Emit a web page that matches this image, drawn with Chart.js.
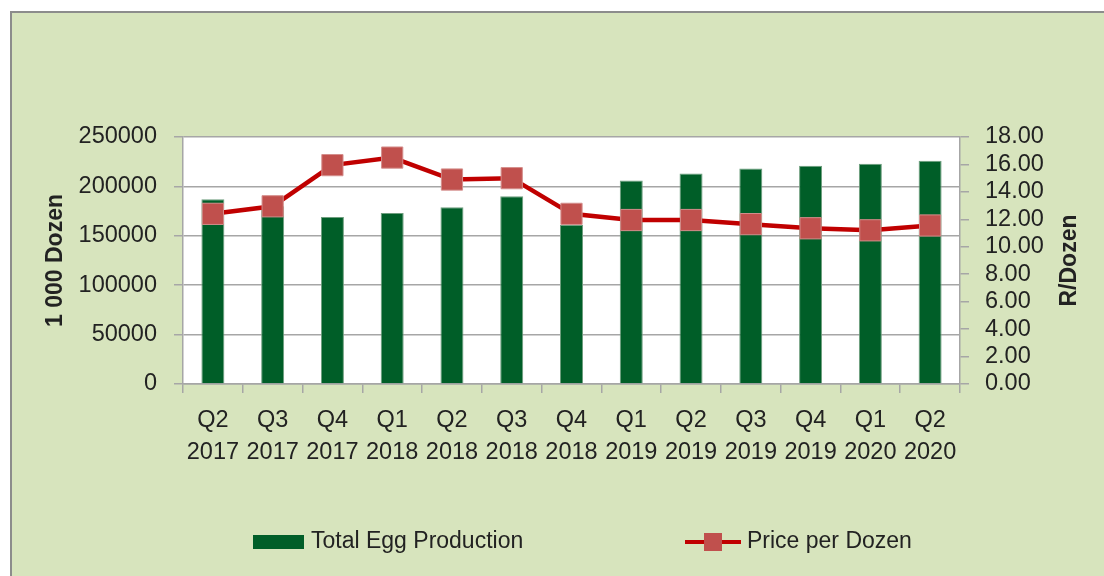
<!DOCTYPE html>
<html>
<head>
<meta charset="utf-8">
<title>Egg production and price per dozen</title>
<script src="https://cdn.jsdelivr.net/npm/chart.js@4.4.1/dist/chart.umd.min.js"></script>
<style>
  html, body { margin: 0; padding: 0; background: #fff; overflow: hidden; width: 1104px; height: 576px; }
  #frame {
    position: absolute; left: 10px; top: 11px; right: -60px; bottom: -60px;
    background: #D7E4BD; border-left: 2px solid #8C8C8C; border-top: 2px solid #8C8C8C;
  }
  #wrap { position: absolute; left: 0; top: 0; width: 1104px; height: 576px; }
</style>
</head>
<body>
<div id="frame"></div>
<div id="wrap"><canvas id="eggs"></canvas></div>
<script>
// quarters on the x axis (two-line labels)
const quarters = [
    ['Q2', '2017'], ['Q3', '2017'], ['Q4', '2017'],
    ['Q1', '2018'], ['Q2', '2018'], ['Q3', '2018'], ['Q4', '2018'],
    ['Q1', '2019'], ['Q2', '2019'], ['Q3', '2019'], ['Q4', '2019'],
    ['Q1', '2020'], ['Q2', '2020']
];
// total egg production, 1 000 dozen
const eggProduction = [187000, 180000, 169000, 173000, 179000, 190000, 161000,
    206000, 213000, 218000, 221000, 223000, 226000];
// average price, R per dozen
const pricePerDozen = [12.4, 12.95, 15.95, 16.5, 14.9, 15.0, 12.4,
    11.95, 11.95, 11.65, 11.35, 11.2, 11.55];

const GREEN = '#005E28';
const RED_LINE = '#C00000';
const RED_MARK = '#C0504D';
const GRID = '#A6A6A6';
const TEXT = '#222222';

Chart.defaults.font.family = '"Liberation Sans", Arial, sans-serif';

// white plot area on top of the green frame
const plotBackground = {
    id: 'plotBackground',
    beforeDraw(chart) {
        const {ctx, chartArea: a} = chart;
        ctx.save();
        ctx.fillStyle = '#FFFFFF';
        ctx.fillRect(a.left, a.top, a.right - a.left, a.bottom - a.top);
        ctx.restore();
    }
};

// right axis title (reads upwards) and the legend row
const sideNotes = {
    id: 'sideNotes',
    afterDraw(chart) {
        const {ctx, chartArea: a} = chart;
        const bars = chart.data.datasets[0];
        const line = chart.data.datasets[1];

        ctx.save();
        ctx.font = 'bold 23px "Liberation Sans"';
        ctx.fillStyle = TEXT;
        ctx.textAlign = 'center';
        ctx.textBaseline = 'middle';
        ctx.translate(1070, (a.top + a.bottom) / 2);
        ctx.rotate(-Math.PI / 2);
        ctx.fillText('R/Dozen', 0, 0);
        ctx.restore();

        const y = 542;
        ctx.save();
        ctx.font = '23px "Liberation Sans"';
        ctx.textBaseline = 'middle';
        ctx.fillStyle = bars.backgroundColor;
        ctx.fillRect(253, y - 7, 51, 14);
        ctx.fillStyle = TEXT;
        ctx.fillText(bars.label, 311, y);

        ctx.strokeStyle = line.borderColor;
        ctx.lineWidth = 4;
        ctx.beginPath();
        ctx.moveTo(685, y);
        ctx.lineTo(741, y);
        ctx.stroke();
        ctx.fillStyle = line.pointBackgroundColor;
        ctx.fillRect(704, y - 9, 18, 18);
        ctx.fillStyle = TEXT;
        ctx.fillText(line.label, 747, y);
        ctx.restore();
    }
};

document.addEventListener('DOMContentLoaded', () => {
    const canvas = document.getElementById('eggs');
    new Chart(canvas, {
        data: {
            labels: quarters,
            datasets: [{
                type: 'bar',
                label: 'Total Egg Production',
                data: eggProduction,
                yAxisID: 'y',
                backgroundColor: GREEN,
                borderColor: '#6E9E7E',
                borderWidth: 1,
                barPercentage: 0.385,
                categoryPercentage: 1,
                order: 1
            }, {
                type: 'line',
                label: 'Price per Dozen',
                data: pricePerDozen,
                yAxisID: 'y1',
                borderColor: RED_LINE,
                borderWidth: 4.5,
                tension: 0,
                pointStyle: 'rect',
                pointRadius: 15,
                pointBackgroundColor: RED_MARK,
                pointBorderColor: '#D48E8C',
                pointBorderWidth: 1,
                order: 0
            }]
        },
        options: {
            responsive: true,
            maintainAspectRatio: false,
            animation: false,
            layout: { padding: { top: 137, left: 0, right: 0, bottom: 0 } },
            plugins: {
                legend: { display: false },
                tooltip: { enabled: false }
            },
            scales: {
                x: {
                    offset: true,
                    grid: { offset: true, drawOnChartArea: false, tickLength: 9, color: GRID, lineWidth: 1.5 },
                    border: { color: GRID, width: 1.5 },
                    ticks: {
                        color: TEXT,
                        font: { size: 23.5, lineHeight: 1.36 },
                        padding: 12,
                        maxRotation: 0,
                        autoSkip: false
                    },
                    afterFit(scale) { scale.height = 192; }
                },
                y: {
                    position: 'left',
                    min: 0,
                    max: 250000,
                    ticks: {
                        stepSize: 50000,
                        autoSkip: false,
                        color: TEXT,
                        font: { size: 23.5 },
                        padding: 17,
                        callback: v => String(v)
                    },
                    grid: { color: GRID, lineWidth: 1.5, tickLength: 9 },
                    border: { color: GRID, width: 1.5 },
                    title: {
                        display: true,
                        text: '1 000 Dozen',
                        color: TEXT,
                        font: { size: 23, weight: 'bold' },
                        padding: { top: 42, bottom: 0 }
                    },
                    afterFit(scale) { scale.width = 183; }
                },
                y1: {
                    position: 'right',
                    min: 0,
                    max: 18,
                    ticks: {
                        stepSize: 2,
                        autoSkip: false,
                        color: TEXT,
                        font: { size: 23.5 },
                        padding: 16,
                        callback: v => v.toFixed(2)
                    },
                    grid: { drawOnChartArea: false, color: GRID, lineWidth: 1.5, tickLength: 9 },
                    border: { color: GRID, width: 1.5 },
                    afterFit(scale) { scale.width = 144; }
                }
            }
        },
        plugins: [plotBackground, sideNotes]
    });
});
</script>
</body>
</html>
